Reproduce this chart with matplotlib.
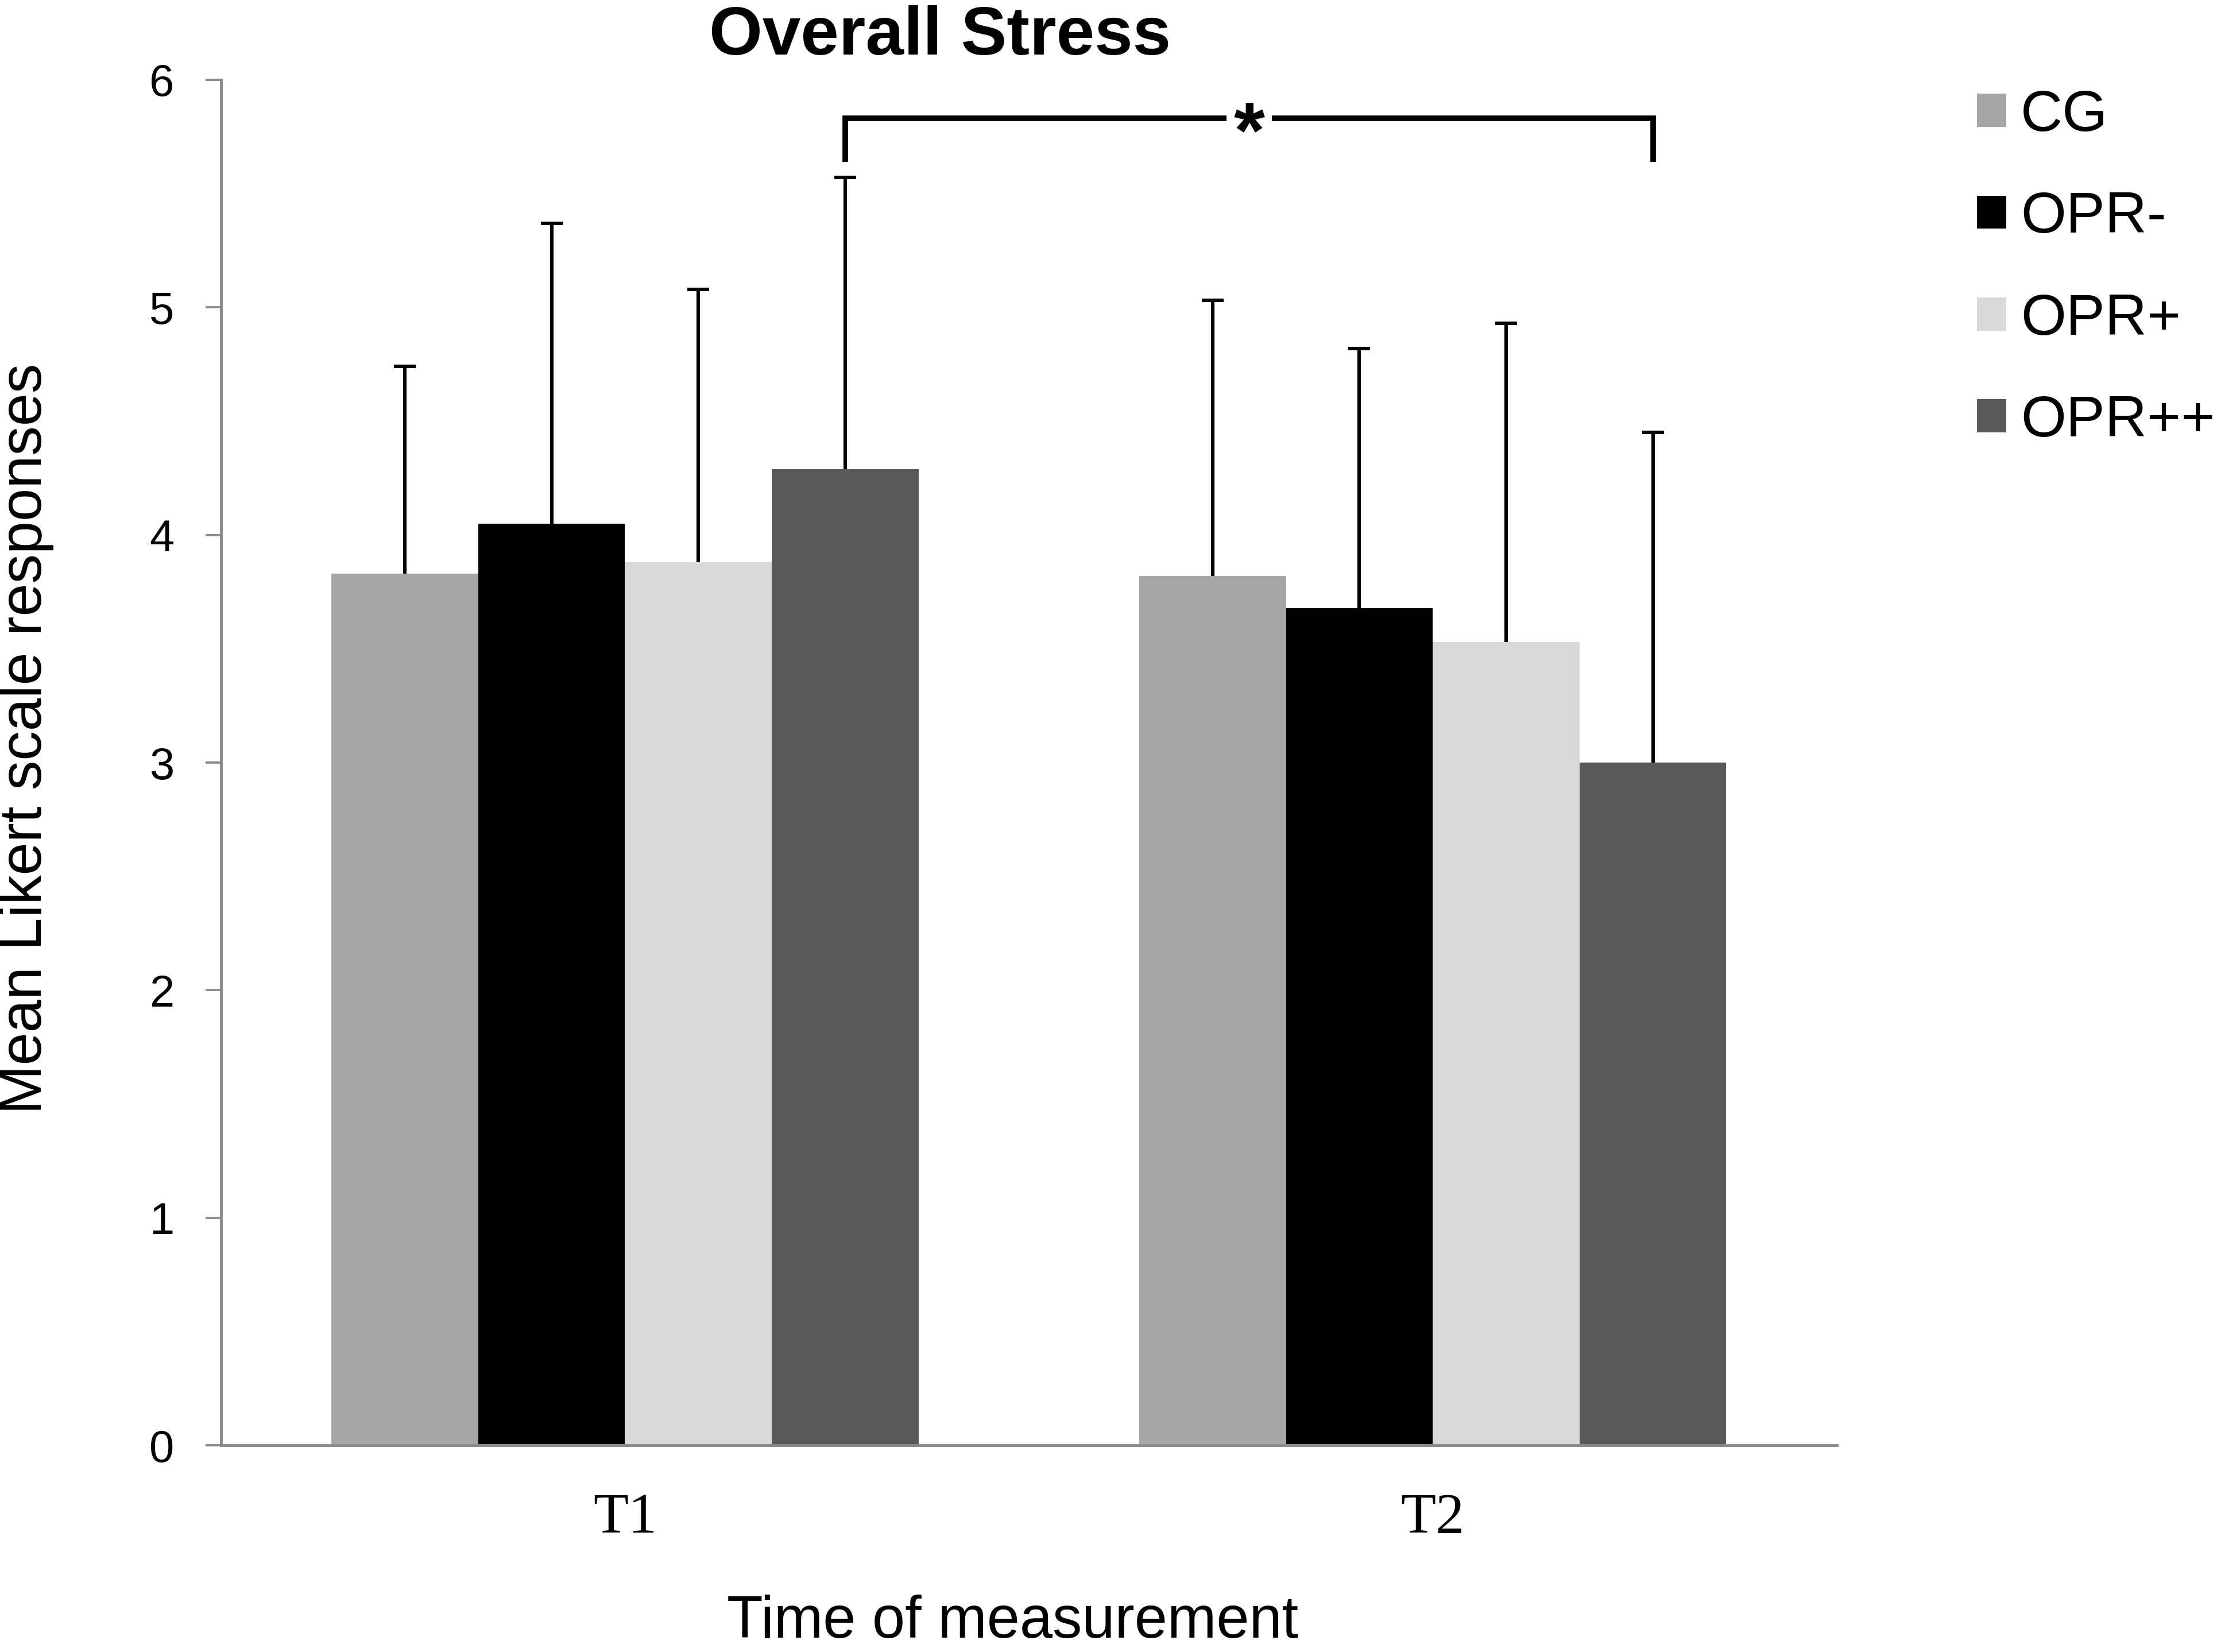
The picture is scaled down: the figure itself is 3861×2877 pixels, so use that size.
import numpy as np
import matplotlib.pyplot as plt
from matplotlib.patches import Patch

# Data
times = ['T1', 'T2']
groups = ['CG', 'OPR-', 'OPR+', 'OPR++']
means_t1 = [3.83, 4.05, 3.88, 4.29]
means_t2 = [3.82, 3.68, 3.53, 3.00]
sd_t1 = [0.91, 1.32, 1.20, 1.28]
sd_t2 = [1.21, 1.14, 1.40, 1.45]
bracket_low = 5.64
bracket_top = 5.83

colors = ['#a6a6a6', '#000000', '#d9d9d9', '#595959']
sans = ['Liberation Sans', 'DejaVu Sans']
serif = ['Liberation Serif', 'DejaVu Serif']
axis_grey = '#8c8c8c'

fig = plt.figure(figsize=(19.31, 14.385), dpi=200)
ax = fig.add_axes([0.0997, 0.1251, 0.7285, 0.8266])

x = np.arange(len(times))
width = 0.1817
means = np.array([means_t1, means_t2])
sds = np.array([sd_t1, sd_t2])

for i, g in enumerate(groups):
    pos = x + (i - 1.5) * width
    ax.bar(pos, means[:, i], width, color=colors[i], linewidth=0, zorder=2)
    _, caps, _ = ax.errorbar(pos, means[:, i],
                             yerr=[np.zeros(len(times)), sds[:, i]],
                             fmt='none', ecolor='black', elinewidth=2.2,
                             capsize=6.8, capthick=2.2, zorder=3)
    # only the upper cap is drawn in the original
    caps[0].set_visible(False)

# significance bracket between OPR++ at T1 and OPR++ at T2
xl = x[0] + 1.5 * width
xr = x[1] + 1.5 * width
xm = (xl + xr) / 2
gap = 0.028
lw_b = 3.5
ax.plot([xl, xl, xm - gap], [bracket_low, bracket_top, bracket_top],
        color='black', lw=lw_b, solid_capstyle='butt', solid_joinstyle='miter',
        clip_on=False, zorder=4)
ax.plot([xm + gap, xr, xr], [bracket_top, bracket_top, bracket_low],
        color='black', lw=lw_b, solid_capstyle='butt', solid_joinstyle='miter',
        clip_on=False, zorder=4)
ax.annotate('*', xy=(xm, bracket_top), xytext=(0, -11.5),
            textcoords='offset points', ha='center', va='center',
            fontsize=50, fontweight='bold', family=sans, annotation_clip=False)

ax.set_xlim(-0.5, 1.5)
ax.set_ylim(0, 6)
ax.set_yticks(range(0, 7))
ax.set_xticks(x)
ax.set_xticklabels(times, family=serif, fontsize=36)
for lab in ax.get_yticklabels():
    lab.set_family(sans)
    lab.set_fontsize(28)

ax.tick_params(axis='x', length=0, pad=30)
ax.tick_params(axis='y', length=9.7, width=1.4, color=axis_grey, pad=19.8)

for s in ['top', 'right']:
    ax.spines[s].set_visible(False)
for s in ['left', 'bottom']:
    ax.spines[s].set_color(axis_grey)
    ax.spines[s].set_linewidth(1.8)

fig.text(0.424, 0.967, 'Overall Stress', ha='center', va='baseline',
         fontsize=43, fontweight='bold', family=sans)
fig.text(0.0117, 0.553, 'Mean Likert scale responses', rotation=90,
         ha='center', va='center', fontsize=37, family=sans)
fig.text(0.4567, 0.001, 'Time of measurement', ha='center', va='bottom',
         fontsize=37, family=sans)

handles = [Patch(facecolor=c, edgecolor='none') for c in colors]
fig.legend(handles, groups, loc='upper left', bbox_to_anchor=(0.8915, 0.946),
           frameon=False, prop={'family': sans, 'size': 36.5},
           handlelength=0.5, handleheight=0.5, handletextpad=0.25,
           labelspacing=0.82, borderpad=0, borderaxespad=0)

fig.savefig('out.png', dpi=200, facecolor='white')
